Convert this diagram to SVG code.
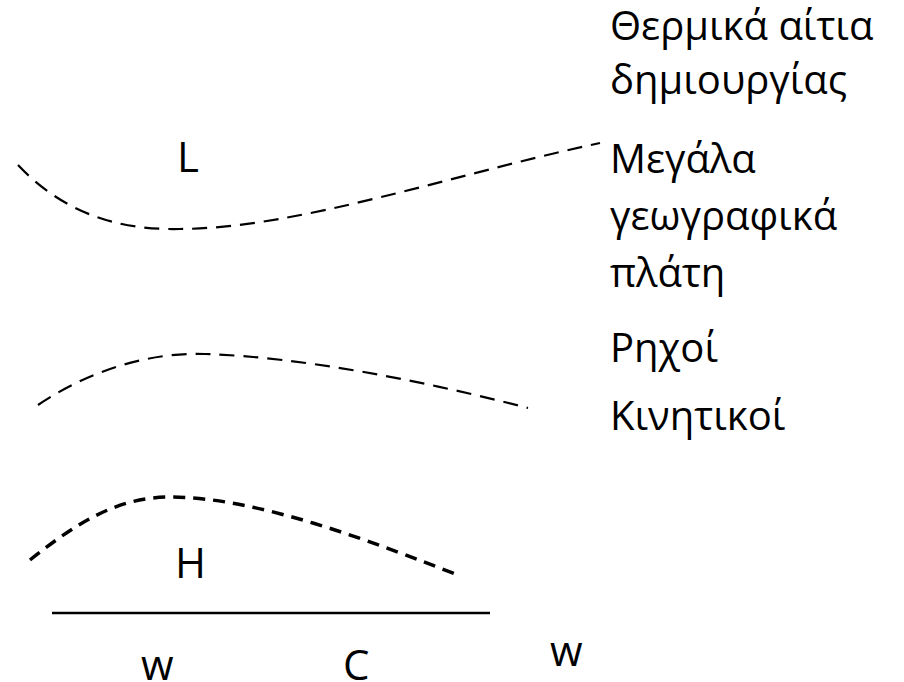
<svg xmlns="http://www.w3.org/2000/svg" width="904" height="682" viewBox="0 0 904 682">
<style>
  .t { font-family: "Open Sans", "Noto Sans", "DejaVu Sans", sans-serif; fill: #000; }
  .r { font-size: 40px; }
  .l { font-size: 42px; }
  .d { fill: none; stroke: #000; stroke-width: 2.2; stroke-dasharray: 15 9; }
  .d3 { fill: none; stroke: #000; stroke-width: 3.5; stroke-dasharray: 12 8; }
</style>
<rect width="904" height="682" fill="#fff"/>
<g id="connectors">
  <path class="d" d="M18,165 C70,220 130,230 180,229 C300,228 450,175 600,143"/>
  <path class="d" d="M38,405 C90,370 150,352 205,354 C300,357 420,380 528,408"/>
  <path class="d3" d="M30,560 C80,520 120,497 170,497 C260,497 380,545 458,575"/>
  <line x1="52" y1="613" x2="490" y2="613" stroke="#000" stroke-width="2.5"/>
</g>
<g id="labels-right">
  <text class="t r" x="610" y="40">Θερμικά αίτια</text>
  <text class="t r" x="610" y="94">δημιουργίας</text>
  <text class="t r" x="610" y="173">Μεγάλα</text>
  <text class="t r" x="610" y="230">γεωγραφικά</text>
  <text class="t r" x="610" y="287">πλάτη</text>
  <text class="t r" x="610" y="362">Ρηχοί</text>
  <text class="t r" x="610" y="430">Κινητικοί</text>
</g>
<g id="node-L"><text class="t l" x="177" y="172">L</text></g>
<g id="node-H"><text class="t l" x="175" y="578">H</text></g>
<g id="node-w1"><text class="t l" x="141" y="680">w</text></g>
<g id="node-C"><text class="t l" x="343" y="680">C</text></g>
<g id="node-w2"><text class="t l" x="550" y="666">w</text></g>
</svg>
